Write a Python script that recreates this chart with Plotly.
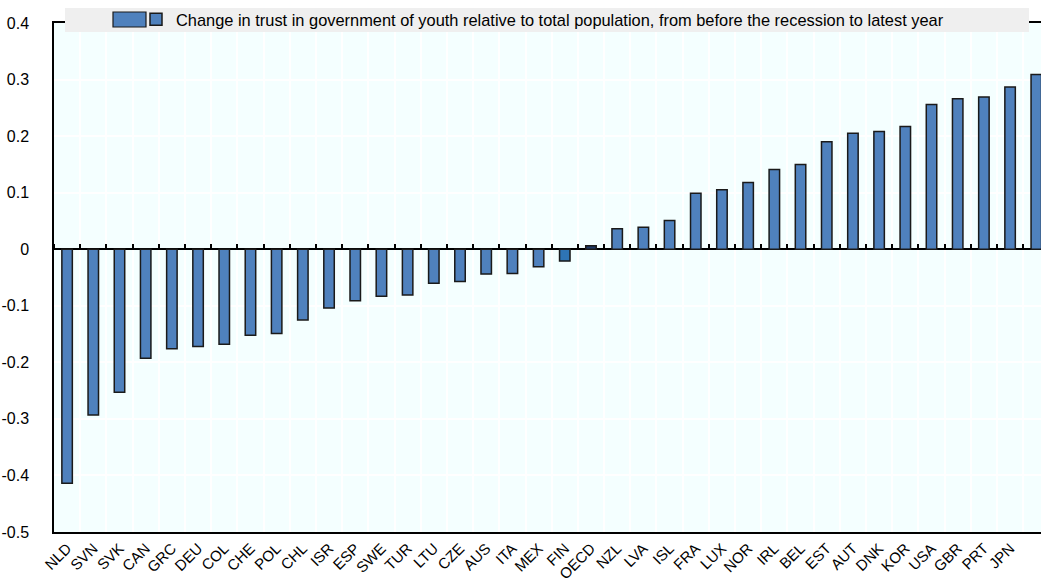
import plotly.graph_objects as go

countries = ["NLD", "SVN", "SVK", "CAN", "GRC", "DEU", "COL", "CHE", "POL", "CHL",
             "ISR", "ESP", "SWE", "TUR", "LTU", "CZE", "AUS", "ITA", "MEX", "FIN",
             "OECD", "NZL", "LVA", "ISL", "FRA", "LUX", "NOR", "IRL", "BEL", "EST",
             "AUT", "DNK", "KOR", "USA", "GBR", "PRT", "JPN", "X38"]
tick_labels = countries[:-1] + [""]  # last bar is cut off in the source, no label visible

change = [-0.414, -0.293, -0.253, -0.193, -0.176, -0.172, -0.168, -0.152, -0.149, -0.125,
          -0.104, -0.091, -0.083, -0.081, -0.060, -0.057, -0.044, -0.043, -0.031, -0.021,
          0.006, 0.036, 0.039, 0.051, 0.099, 0.105, 0.118, 0.141, 0.150, 0.190,
          0.205, 0.208, 0.217, 0.256, 0.266, 0.269, 0.287, 0.309]

series_name = "Change in trust in government of youth relative to total population, from before the recession to latest year"

BLUE = "#4F81BD"
colors = [BLUE] * len(countries)
colors[countries.index("FIN")] = "#2E74B5"
colors[countries.index("OECD")] = "#1F3A68"

FONT = "Liberation Sans, Arial, sans-serif"
W, H = 1041, 578
L, T, B = 54, 23, 46
PW, PH = W - L, H - T - B


def px_x(x):
    return (x - L) / PW


def px_y(y):
    return (H - B - y) / PH


fig = go.Figure()
fig.add_trace(go.Bar(
    x=countries, y=change, name=series_name,
    width=0.4,
    marker=dict(color=colors, line=dict(color="#1a1a1a", width=1.5)),
))
# invisible copy on an overlay axis, only used to draw the tick marks on the zero line
fig.add_trace(go.Bar(
    x=countries, y=change, xaxis="x2", showlegend=False,
    width=0.4, opacity=0, hoverinfo="skip",
))

fig.update_layout(
    width=W, height=H,
    margin=dict(l=L, r=0, t=T, b=B, autoexpand=False),
    paper_bgcolor="white",
    plot_bgcolor="#F4FFFF",
    font=dict(family=FONT, size=16, color="#000000"),
    showlegend=True,
    legend=dict(
        x=px_x(136), y=px_y(2), xanchor="left", yanchor="top",
        bgcolor="rgba(0,0,0,0)", borderwidth=0,
        itemwidth=30, font=dict(size=16.4),
        tracegroupgap=0,
    ),
    xaxis=dict(
        type="category", automargin=False,
        range=[-0.5, 37.18],
        tickmode="array", tickvals=countries, ticktext=tick_labels,
        tickangle=-45, tickfont=dict(size=15),
        ticks="", tickson="boundaries",
        showgrid=True, gridcolor="white", gridwidth=1.5,
        showline=True, linecolor="black", linewidth=1.5, mirror=True,
    ),
    xaxis2=dict(
        type="category", overlaying="x", matches="x", automargin=False,
        anchor="free", position=0.5 / 0.9, side="top",
        ticks="outside", ticklen=5, tickwidth=1.5, tickcolor="black",
        tickson="boundaries", showticklabels=False,
        showgrid=False, showline=False, zeroline=False,
    ),
    yaxis=dict(
        range=[-0.5, 0.4], automargin=False,
        tickvals=[-0.5, -0.4, -0.3, -0.2, -0.1, 0, 0.1, 0.2, 0.3, 0.4],
        ticktext=["-0.5", "-0.4", "-0.3", "-0.2", "-0.1", "0", "0.1", "0.2", "0.3", "0.4"],
        ticks="", ticklabelstandoff=20, tickfont=dict(size=16),
        showgrid=True, gridcolor="white", gridwidth=1.5,
        zeroline=True, zerolinecolor="black", zerolinewidth=1.5,
        showline=True, linecolor="black", linewidth=1.5,
    ),
    shapes=[
        # grey legend band across the top of the plot
        dict(type="rect", xref="paper", yref="paper",
             x0=px_x(65), x1=px_x(1029), y0=px_y(32), y1=px_y(8),
             fillcolor="#EFEFEF", line=dict(width=0), layer="above"),
        # wide legend swatch
        dict(type="rect", xref="paper", yref="paper",
             x0=px_x(113), x1=px_x(146), y0=px_y(27), y1=px_y(12),
             fillcolor=BLUE, line=dict(color="#1a1a1a", width=1.2), layer="above"),
    ],
    bargap=0.6,
)

# drop the browser's default 8px body margin so the figure sits at the page corner
fig.write_html("out.html", config={"displayModeBar": False},
               post_script="document.body.style.margin='0';")
